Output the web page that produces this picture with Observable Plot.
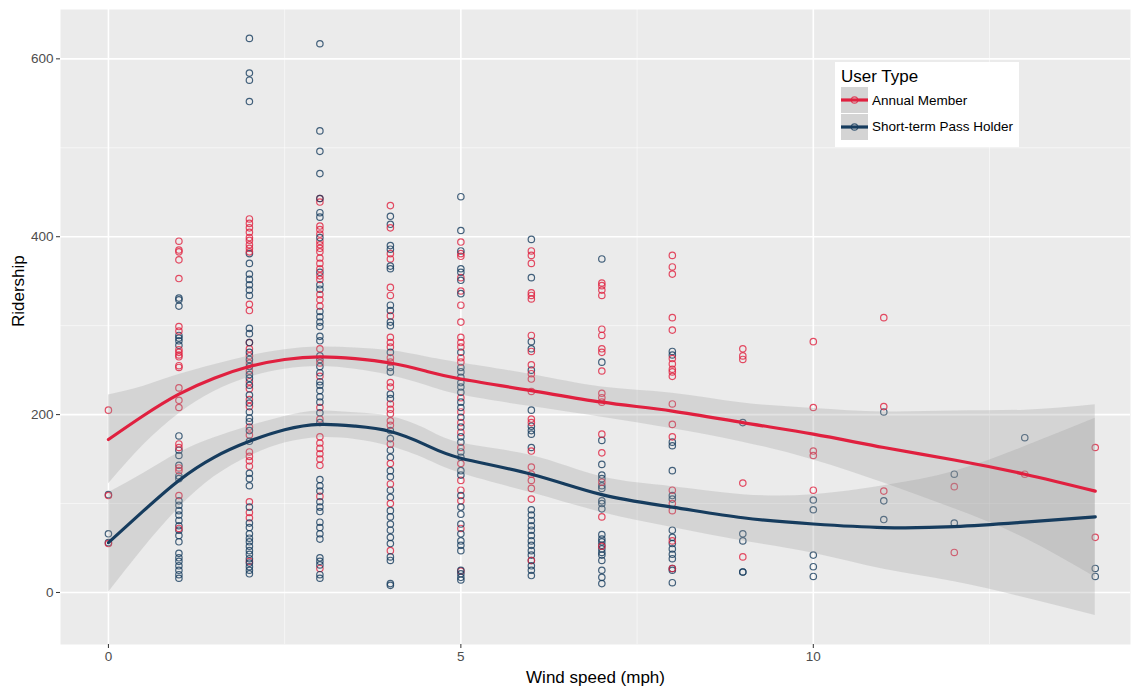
<!DOCTYPE html>
<html>
<head>
<meta charset="utf-8">
<script src="https://cdn.jsdelivr.net/npm/d3@7"></script>
<script src="https://cdn.jsdelivr.net/npm/@observablehq/plot@0.6"></script>
<style>
  body { margin: 0; background: #ffffff; font-family: "Liberation Sans", Arial, Helvetica, sans-serif; }
  #wrap { position: relative; width: 1134px; height: 688px; }
  #legend {
    position: absolute; left: 835px; top: 62px; width: 184px; height: 85px;
    background: #ffffff; box-sizing: border-box; padding: 4px 0 0 6px;
  }
  #legend .title { font-size: 17px; color: #000; height: 21px; line-height: 21px; }
  #legend .row { display: flex; align-items: center; height: 26.5px; }
  #legend .row svg { display: block; margin-right: 4px; }
  #legend .row span { font-size: 13.5px; color: #000; }
</style>
</head>
<body>
<div id="wrap">
  <div id="chart"></div>
  <div id="legend"></div>
</div>
<script>
// Wind speed (mph) columns and daily ridership observed at each speed
const windSpeeds = [0, 1, 2, 3, 4, 5, 6, 7, 8, 9, 10, 11, 12, 13, 14];

const memberRides = [
  [205, 109, 55],
  [395, 385, 383, 374, 353, 299, 294, 273, 270, 267, 265, 255, 253, 230, 216, 208, 167, 163, 140, 137, 109, 72],
  [420, 415, 410, 405, 399, 396, 391, 387, 383, 324, 317, 281, 274, 266, 258, 249, 237, 229, 217, 209, 186, 177, 158, 153, 148, 142, 102, 90, 84, 35],
  [443, 439, 412, 408, 403, 395, 391, 387, 383, 376, 370, 364, 356, 352, 335, 329, 322, 274, 258, 243, 208, 195, 175, 168, 162, 156, 150, 143, 108, 27],
  [435, 410, 381, 375, 343, 334, 311, 287, 281, 276, 264, 259, 236, 231, 212, 206, 201, 193, 188, 167, 145, 122, 100, 47],
  [394, 381, 378, 354, 339, 323, 304, 287, 281, 276, 264, 259, 219, 203, 191, 180, 163, 145, 126, 115, 103, 72, 24],
  [384, 379, 370, 337, 334, 330, 289, 271, 256, 246, 240, 226, 195, 191, 159, 141, 133, 126, 117, 105, 36],
  [348, 345, 340, 334, 296, 289, 274, 270, 249, 224, 219, 214, 178, 157, 124, 85, 52],
  [379, 366, 358, 309, 295, 263, 257, 251, 248, 243, 212, 189, 175, 115, 100, 92, 58, 27],
  [274, 266, 262, 123, 40],
  [282, 208, 159, 154, 115],
  [309, 209, 114],
  [119, 45],
  [133],
  [163, 62]
];

const passRides = [
  [110, 66, 56],
  [331, 329, 322, 289, 286, 283, 278, 176, 160, 154, 143, 131, 128, 103, 98, 92, 87, 81, 75, 70, 64, 57, 44, 39, 35, 30, 25, 20, 16],
  [623, 584, 576, 552, 381, 370, 358, 352, 346, 340, 334, 297, 291, 281, 270, 262, 254, 245, 241, 233, 222, 213, 203, 196, 192, 182, 170, 134, 128, 120, 96, 78, 73, 66, 61, 57, 52, 47, 43, 38, 33, 29, 25, 21],
  [617, 519, 496, 471, 443, 427, 422, 399, 360, 346, 341, 316, 310, 304, 299, 288, 283, 266, 262, 254, 247, 237, 233, 227, 220, 214, 202, 191, 127, 120, 114, 102, 96, 91, 79, 73, 66, 60, 39, 35, 31, 20, 16],
  [423, 414, 390, 386, 367, 364, 323, 317, 304, 300, 270, 253, 248, 223, 218, 182, 173, 160, 152, 137, 130, 115, 107, 92, 85, 77, 70, 62, 55, 40, 36, 10, 8],
  [445, 407, 384, 364, 360, 351, 336, 270, 253, 248, 242, 236, 231, 225, 214, 208, 197, 186, 175, 169, 158, 152, 137, 132, 109, 96, 88, 77, 66, 58, 53, 47, 25, 21, 17, 14],
  [397, 354, 282, 274, 250, 205, 187, 182, 178, 163, 93, 87, 81, 75, 70, 64, 58, 53, 47, 42, 36, 30, 25, 19],
  [375, 259, 171, 144, 132, 128, 120, 117, 103, 100, 94, 65, 60, 57, 53, 49, 45, 42, 36, 25, 17, 10],
  [271, 267, 169, 165, 137, 109, 105, 70, 62, 55, 49, 43, 38, 27, 25, 11],
  [191, 66, 58, 23, 23],
  [104, 93, 42, 29, 18],
  [203, 103, 82],
  [133, 78],
  [174],
  [27, 18]
];

// Smoothed trend (loess fit) with its confidence band, per user type
const smoothX = [0, 0.5, 1, 1.5, 2, 2.5, 3, 3.5, 4, 4.5, 5, 6, 7, 8, 9, 10, 11, 12, 13, 14];
const memberFit = [172, 199, 223, 241, 254, 262, 265, 263, 258, 249, 240, 227, 214, 204, 191, 178, 163, 149, 133, 114];
const memberLow = [122, 166, 201, 226, 242, 251, 254, 251, 244, 233, 222, 209, 197, 184, 169, 149, 123, 94, 61, 17];
const memberHigh = [222, 232, 245, 256, 266, 273, 276, 275, 272, 265, 258, 245, 231, 224, 213, 207, 203, 204, 205, 211];
const passFit = [56, 92, 126, 152, 170, 183, 189, 187, 181, 166, 151, 133, 110, 96, 84, 77, 73, 74, 79, 85];
const passLow = [0, 50, 95, 130, 153, 168, 174, 172, 164, 150, 134, 112, 90, 73, 58, 44, 26, 12, -6, -26];
const passHigh = [112, 134, 157, 174, 187, 198, 204, 202, 198, 184, 168, 154, 130, 119, 110, 110, 120, 136, 164, 196];

const userTypes = ["Annual Member", "Short-term Pass Holder"];
const typeColors = ["#E0203F", "#163C5E"];

const xTicks = [0, 5, 10];
const xMinor = [2.5, 7.5, 12.5];
const yTicks = [0, 200, 400, 600];
const yMinor = [100, 300, 500];

// Build tidy rows for the marks
const dots = [];
windSpeeds.forEach((w, i) => {
  const a = memberRides[i], b = passRides[i];
  const n = Math.max(a.length, b.length);
  for (let k = 0; k < n; k++) {
    if (k < b.length) dots.push({wind: w, rides: b[k], type: userTypes[1]});
    if (k < a.length) dots.push({wind: w, rides: a[k], type: userTypes[0]});
  }
});

const smooth = [];
smoothX.forEach((x, i) => {
  smooth.push({wind: x, fit: memberFit[i], lo: memberLow[i], hi: memberHigh[i], type: userTypes[0]});
});
smoothX.forEach((x, i) => {
  smooth.push({wind: x, fit: passFit[i], lo: passLow[i], hi: passHigh[i], type: userTypes[1]});
});

const chart = Plot.plot({
  width: 1134,
  height: 688,
  marginTop: 9,
  marginBottom: 44,
  marginLeft: 60,
  marginRight: 4,
  style: {fontFamily: "'Liberation Sans', Arial, Helvetica, sans-serif", background: "transparent", overflow: "visible"},
  x: {domain: [-0.68, 14.5]},
  y: {domain: [-58.5, 655.5]},
  color: {domain: userTypes, range: typeColors},
  marks: [
    Plot.frame({fill: "#EBEBEB", stroke: null}),
    Plot.gridX(xMinor, {stroke: "#ffffff", strokeOpacity: 0.6, strokeWidth: 0.9}),
    Plot.gridY(yMinor, {stroke: "#ffffff", strokeOpacity: 0.6, strokeWidth: 0.9}),
    Plot.gridX(xTicks, {stroke: "#ffffff", strokeOpacity: 1, strokeWidth: 1.6}),
    Plot.gridY(yTicks, {stroke: "#ffffff", strokeOpacity: 1, strokeWidth: 1.6}),
    Plot.dot(dots, {x: "wind", y: "rides", stroke: "type", r: 3.2, strokeWidth: 1.2, strokeOpacity: 0.8, fill: "none"}),
    Plot.areaY(smooth, {x: "wind", y1: "lo", y2: "hi", z: "type", fill: "#999999", fillOpacity: 0.28, curve: "natural"}),
    Plot.line(smooth, {x: "wind", y: "fit", z: "type", stroke: "type", strokeWidth: 3.2, curve: "natural"}),
    Plot.axisX({ticks: xTicks, tickSize: 4, tickPadding: 3, fontSize: 13.5, color: "#4D4D4D", stroke: "#333333", label: null}),
    Plot.axisY({ticks: yTicks, tickSize: 4, tickPadding: 3, fontSize: 13.5, color: "#4D4D4D", stroke: "#333333", label: null}),
    Plot.text(["Wind speed (mph)"], {frameAnchor: "bottom", dy: 38, lineAnchor: "bottom", fontSize: 17, fill: "#000000"}),
    Plot.text(["Ridership"], {frameAnchor: "left", dx: -42, rotate: -90, fontSize: 17, fill: "#000000"})
  ]
});
document.getElementById("chart").appendChild(chart);

// Legend: key shows band fill, line and point, as drawn in the panel
const legend = document.getElementById("legend");
const title = document.createElement("div");
title.className = "title";
title.textContent = "User Type";
legend.appendChild(title);
userTypes.forEach((t, i) => {
  const row = document.createElement("div");
  row.className = "row";
  const key = d3.create("svg").attr("width", 27).attr("height", 26);
  key.append("rect").attr("width", 27).attr("height", 26).attr("fill", "#EBEBEB");
  key.append("rect").attr("width", 27).attr("height", 26).attr("fill", "#999999").attr("fill-opacity", 0.28);
  key.append("line").attr("x1", 0).attr("x2", 27).attr("y1", 13).attr("y2", 13)
    .attr("stroke", typeColors[i]).attr("stroke-width", 3.2);
  key.append("circle").attr("cx", 13.5).attr("cy", 13).attr("r", 3.2)
    .attr("fill", "none").attr("stroke", typeColors[i]).attr("stroke-width", 1.2).attr("stroke-opacity", 0.8);
  row.appendChild(key.node());
  const label = document.createElement("span");
  label.textContent = t;
  row.appendChild(label);
  legend.appendChild(row);
});
</script>
</body>
</html>
